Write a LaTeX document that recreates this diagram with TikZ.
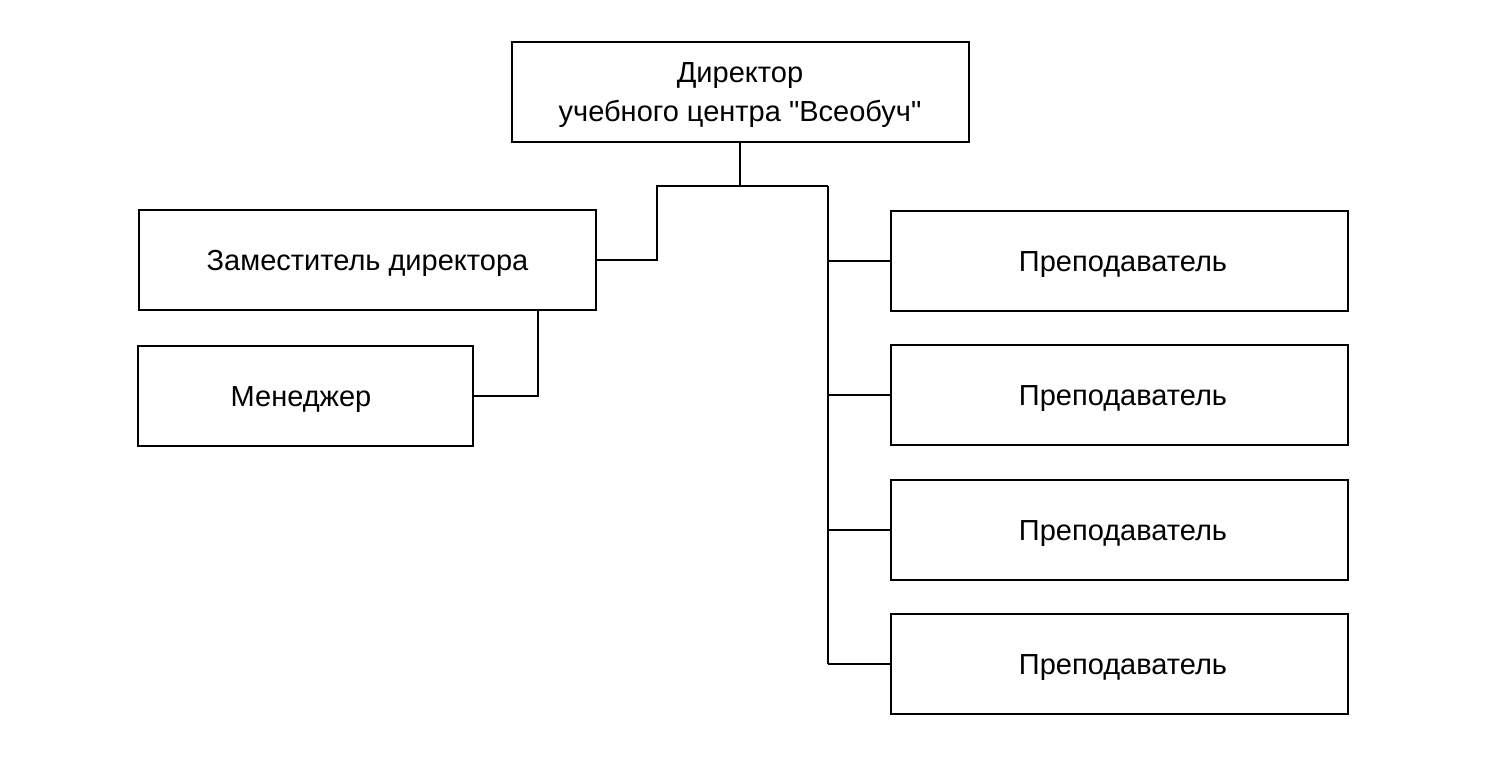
\documentclass[tikz,border=0pt]{standalone}
\usepackage{fontspec}
\setmainfont{Liberation Sans}[Ligatures=TeXOff]
\usepackage{tikz}
\tikzstyle{post}=[draw, line width=1pt, inner sep=0pt, minimum height=50pt, align=center, text height=10.4pt, text depth=0pt, font=\fontsize{14.5}{19.5}\selectfont]
\tikzstyle{wpost}=[post, minimum width=228.5pt]
\tikzstyle{link}=[line width=1pt]

\begin{document}
\begin{tikzpicture}[x=0.5pt, y=-0.5pt]
        \useasboundingbox (0,0) rectangle (1503,758);
        \node[wpost, text height=29.9pt] (Dir) at (740, 92) {Директор\\ учебного центра "Всеобуч"};
        \node[wpost] (Dep) at (367.5, 260.5) {Заместитель директора};
        \node[post, minimum width=167.5pt] (Man) at (305.5, 396.5) {Менеджер\hspace*{4.5pt}};
        \node[wpost] (T1) at (1119.5, 261) {\hspace*{3.5pt}Преподаватель};
        \node[wpost] (T2) at (1119.5, 395) {\hspace*{3.5pt}Преподаватель};
        \node[wpost] (T3) at (1119.5, 530) {\hspace*{3.5pt}Преподаватель};
        \node[wpost] (T4) at (1119.5, 664) {\hspace*{3.5pt}Преподаватель};
        \coordinate (bar) at (828, 186);
        \draw[link] (Dir.south) -- (Dir.south |- bar);
        \draw[link] (Dep.east) -| (657, 186) -- (bar);
        \draw[link] (bar) -- (bar |- T4.west);
        \foreach \t in {T1, T2, T3, T4}
            \draw[link] (bar |- \t.west) -- (\t.west);
        \draw[link] (Man.east) -| ([xshift=-29.5pt]Dep.south east);
    \end{tikzpicture}
\end{document}
